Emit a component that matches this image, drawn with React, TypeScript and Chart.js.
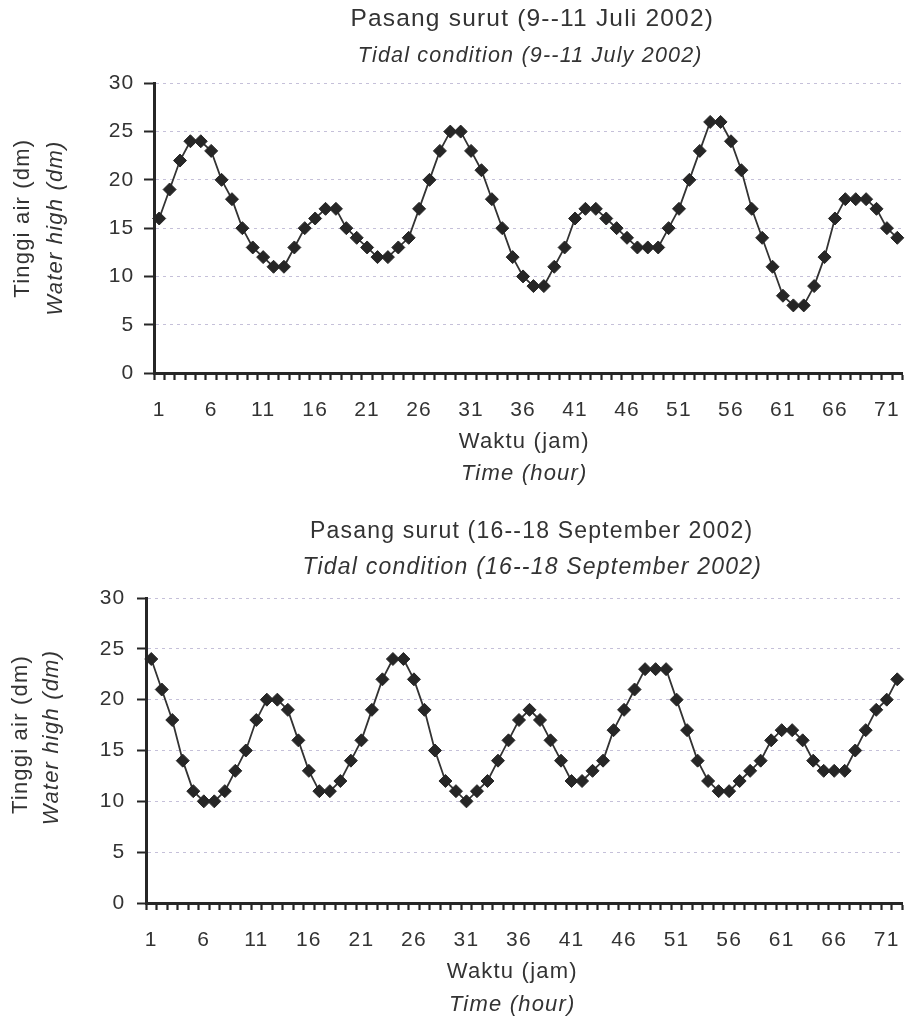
import { useEffect, useRef } from 'react';
import { Chart, registerables } from 'chart.js';

Chart.register(...registerables);

// ---- Data ----
const hours = [
  1, 2, 3, 4, 5, 6, 7, 8, 9, 10, 11, 12, 13, 14, 15, 16, 17, 18, 19, 20, 21, 22, 23, 24,
  25, 26, 27, 28, 29, 30, 31, 32, 33, 34, 35, 36, 37, 38, 39, 40, 41, 42, 43, 44, 45, 46, 47, 48,
  49, 50, 51, 52, 53, 54, 55, 56, 57, 58, 59, 60, 61, 62, 63, 64, 65, 66, 67, 68, 69, 70, 71, 72,
];

// Pasang surut 9--11 Juli 2002 (dm)
const julyLevels = [
  16, 19, 22, 24, 24, 23, 20, 18, 15, 13,
  12, 11, 11, 13, 15, 16, 17, 17, 15, 14,
  13, 12, 12, 13, 14, 17, 20, 23, 25, 25,
  23, 21, 18, 15, 12, 10, 9, 9, 11, 13,
  16, 17, 17, 16, 15, 14, 13, 13, 13, 15,
  17, 20, 23, 26, 26, 24, 21, 17, 14, 11,
  8, 7, 7, 9, 12, 16, 18, 18, 18, 17,
  15, 14,
];

// Pasang surut 16--18 September 2002 (dm)
const septemberLevels = [
  24, 21, 18, 14, 11, 10, 10, 11, 13, 15,
  18, 20, 20, 19, 16, 13, 11, 11, 12, 14,
  16, 19, 22, 24, 24, 22, 19, 15, 12, 11,
  10, 11, 12, 14, 16, 18, 19, 18, 16, 14,
  12, 12, 13, 14, 17, 19, 21, 23, 23, 23,
  20, 17, 14, 12, 11, 11, 12, 13, 14, 16,
  17, 17, 16, 14, 13, 13, 13, 15, 17, 19,
  20, 22,
];

const yMin = 0;
const yMax = 30;
const yStep = 5;
const xLabelEvery = 5;

const titleJuly = 'Pasang surut (9--11 Juli 2002)';
const subtitleJuly = 'Tidal condition (9--11 July 2002)';
const titleSept = 'Pasang surut (16--18 September 2002)';
const subtitleSept = 'Tidal condition (16--18 September 2002)';
const yTitleId = 'Tinggi air (dm)';
const yTitleEn = 'Water high (dm)';
const xTitleId = 'Waktu (jam)';
const xTitleEn = 'Time (hour)';

// ---- Style ----
const FONT = "'Liberation Sans', Arial, Helvetica, sans-serif";
const INK = '#333333';
const AXIS = '#262626';
const GRID = 'rgba(150,140,185,0.55)';
const LETTER_SPACING = '1.2px';

type Layout = {
  canvasH: number;
  titleSize: number;
  subtitleSize: number;
  titlePad: { top: number; bottom: number };
  subtitlePad: { top: number; bottom: number };
  tinggiW: number;
  tinggiPadTop: number;
  waterW: number;
  waterPadTop: number;
  mainYW: number;
  yTickLen: number;
  yTickPad: number;
  xTickLen: number;
  xTickPad: number;
  mainXH: number;
  waktuH: number;
  timeH: number;
  padBottom: number;
  padRight: number;
  titleDx: number;
  subtitleDx: number;
  xTitleDx: number;
  tinggiDy: number;
  waterDy: number;
};

const topLayout: Layout = {
  canvasH: 500,
  titleSize: 24.5,
  subtitleSize: 21.5,
  titlePad: { top: 4.3, bottom: 9.7 },
  subtitlePad: { top: 0, bottom: 14.1 },
  tinggiW: 39,
  tinggiPadTop: 9.5,
  waterW: 65,
  waterPadTop: 3.7,
  mainYW: 50,
  yTickLen: 10,
  yTickPad: 9.5,
  xTickLen: 7,
  xTickPad: 4.8,
  mainXH: 56,
  waktuH: 26,
  timeH: 32.5,
  padBottom: 12.5,
  padRight: 0,
  titleDx: 4,
  subtitleDx: 2,
  xTitleDx: -4,
  tinggiDy: -10,
  waterDy: 0,
};

const bottomLayout: Layout = {
  canvasH: 522,
  titleSize: 23,
  subtitleSize: 23,
  titlePad: { top: 18.2, bottom: 8.4 },
  subtitlePad: { top: 0, bottom: 16.2 },
  tinggiW: 37,
  tinggiPadTop: 7.9,
  waterW: 59,
  waterPadTop: 1.2,
  mainYW: 50,
  yTickLen: 9,
  yTickPad: 11.5,
  xTickLen: 7,
  xTickPad: 4.8,
  mainXH: 56,
  waktuH: 26,
  timeH: 33.5,
  padBottom: 3.5,
  padRight: 4,
  titleDx: 7.5,
  subtitleDx: 8,
  xTitleDx: -12,
  tinggiDy: -16,
  waterDy: -13,
};

function tweaksPlugin(L: Layout, title: string, subtitle: string) {
  return {
    id: 'textTweaks',
    beforeUpdate(chart: any) {
      chart.ctx.letterSpacing = LETTER_SPACING;
    },
    afterLayout(chart: any) {
      for (const box of chart.boxes) {
        const t = box?.options?.text;
        if (t === title) {
          box.left += L.titleDx;
          box.right += L.titleDx;
        } else if (t === subtitle) {
          box.left += L.subtitleDx;
          box.right += L.subtitleDx;
        }
      }
      const sc = chart.scales;
      for (const id of ['xWaktu', 'xTime']) {
        sc[id].left += L.xTitleDx;
        sc[id].right += L.xTitleDx;
      }
      sc.yTinggi.top += L.tinggiDy;
      sc.yTinggi.bottom += L.tinggiDy;
      sc.yWater.top += L.waterDy;
      sc.yWater.bottom += L.waterDy;
    },
  };
}

function titleAxis(position: 'left' | 'bottom', weight: number, text: string, italic: boolean, padTop: number, size: number) {
  return {
    type: 'linear',
    position,
    weight,
    display: true,
    grid: { display: false, drawTicks: false },
    border: { display: false },
    ticks: { display: false },
    title: {
      display: true,
      text,
      color: INK,
      font: { family: FONT, size: 22, style: italic ? 'italic' : 'normal' },
      padding: { top: padTop, bottom: 0 },
    },
    afterFit: (s: any) => {
      if (position === 'left') s.width = size;
      else s.height = size;
    },
  };
}

function buildChart(canvas: HTMLCanvasElement, values: number[], title: string, subtitle: string, L: Layout) {
  const normal = { family: FONT, size: 21, style: 'normal' as const };
  return new Chart(canvas, {
    type: 'line',
    data: {
      labels: hours,
      datasets: [
        {
          data: values,
          borderColor: '#333333',
          borderWidth: 1.8,
          pointStyle: 'rectRot',
          pointRadius: 6.5,
          pointBackgroundColor: '#262626',
          pointBorderColor: '#262626',
          pointBorderWidth: 1,
          tension: 0,
        },
      ],
    },
    plugins: [tweaksPlugin(L, title, subtitle)],
    options: {
      responsive: false,
      animation: false,
      events: [],
      layout: { padding: { top: 0, left: 0, right: L.padRight, bottom: L.padBottom } },
      plugins: {
        legend: { display: false },
        tooltip: { enabled: false },
        title: {
          display: true,
          text: title,
          fullSize: false,
          color: INK,
          font: { family: FONT, size: L.titleSize, style: 'normal', weight: 'normal' },
          padding: L.titlePad,
        },
        subtitle: {
          display: true,
          text: subtitle,
          fullSize: false,
          color: INK,
          font: { family: FONT, size: L.subtitleSize, style: 'italic', weight: 'normal' },
          padding: L.subtitlePad,
        },
      },
      scales: {
        x: {
          type: 'category',
          position: 'bottom',
          offset: true,
          weight: 0,
          grid: {
            display: true,
            drawOnChartArea: false,
            drawTicks: true,
            offset: true,
            tickLength: L.xTickLen,
            tickColor: AXIS,
            tickWidth: 2.2,
            color: AXIS,
          },
          border: { display: true, color: AXIS, width: 3 },
          ticks: {
            autoSkip: false,
            maxRotation: 0,
            minRotation: 0,
            padding: L.xTickPad,
            color: INK,
            font: { family: FONT, size: 21, style: 'normal', lineHeight: 2.4 },
            callback: (_v: any, i: number) => (i % xLabelEvery === 0 ? String(hours[i]) : ''),
          },
          afterFit: (s: any) => {
            s.height = L.mainXH;
          },
        },
        xWaktu: titleAxis('bottom', 1, xTitleId, false, 0, L.waktuH),
        xTime: titleAxis('bottom', 2, xTitleEn, true, 0, L.timeH),
        y: {
          type: 'linear',
          position: 'left',
          weight: 0,
          min: yMin,
          max: yMax,
          grid: {
            display: true,
            drawOnChartArea: true,
            drawTicks: true,
            tickLength: L.yTickLen,
            color: GRID,
            lineWidth: 1,
            tickColor: AXIS,
            tickWidth: 2,
            tickBorderDash: [],
          },
          border: { display: true, color: AXIS, width: 3, dash: [3, 4] },
          ticks: {
            stepSize: yStep,
            padding: L.yTickPad,
            color: INK,
            font: normal,
          },
          afterFit: (s: any) => {
            s.width = L.mainYW;
          },
        },
        yWater: titleAxis('left', 1, yTitleEn, true, L.waterPadTop, L.waterW),
        yTinggi: titleAxis('left', 2, yTitleId, false, L.tinggiPadTop, L.tinggiW),
      },
    } as any,
  });
}

function TideChart(props: { values: number[]; title: string; subtitle: string; layout: Layout; top: number }) {
  const ref = useRef<HTMLCanvasElement | null>(null);
  useEffect(() => {
    if (!ref.current) return;
    const chart = buildChart(ref.current, props.values, props.title, props.subtitle, props.layout);
    return () => chart.destroy();
  }, []);
  return (
    <canvas
      ref={ref}
      width={910}
      height={props.layout.canvasH}
      style={{ position: 'absolute', left: 0, top: props.top, width: 910, height: props.layout.canvasH }}
    />
  );
}

export default function App() {
  return (
    <div style={{ position: 'absolute', left: 0, top: 0, width: 910, height: 1022, background: '#ffffff', overflow: 'hidden' }}>
      <TideChart values={julyLevels} title={titleJuly} subtitle={subtitleJuly} layout={topLayout} top={0} />
      <TideChart values={septemberLevels} title={titleSept} subtitle={subtitleSept} layout={bottomLayout} top={500} />
    </div>
  );
}
